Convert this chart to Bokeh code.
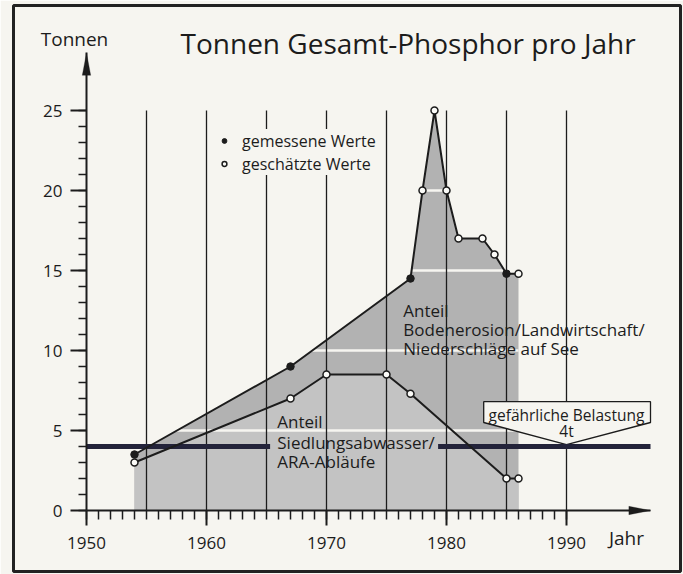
from bokeh.plotting import figure
from bokeh.models import (Range1d, FixedTicker, Legend, LegendItem, Label,
                          PolyAnnotation)
from bokeh.core.properties import value
from bokeh.embed import file_html
from bokeh.resources import INLINE

# ---------------- data ----------------
total_years = [1954, 1967, 1977, 1978, 1979, 1980, 1981, 1983, 1984, 1985, 1986]
total_values = [3.5, 9.0, 14.5, 20.0, 25.0, 20.0, 17.0, 17.0, 16.0, 14.8, 14.8]
total_measured = [True, True, True, False, False, False, False, False, False, True, False]

sied_years = [1954, 1967, 1970, 1975, 1977, 1985, 1986]
sied_values = [3.0, 7.0, 8.5, 8.5, 7.3, 2.0, 2.0]

threshold_value = 4.0

x_major_ticks = [1950, 1960, 1970, 1980, 1990]
x_minor_ticks = list(range(1950, 1991))
y_major_ticks = [0, 5, 10, 15, 20, 25]
y_minor_ticks = list(range(0, 26))
grid_years = [1955, 1960, 1965, 1970, 1975, 1980, 1985, 1990]
band_ticks = [5, 10, 15, 20]

title_text = "Tonnen Gesamt-Phosphor pro Jahr"
y_label_text = "Tonnen"
x_label_text = "Jahr"
legend_labels = ["gemessene Werte", "geschätzte Werte"]
agri_lines = ["Anteil", "Bodenerosion/Landwirtschaft/", "Niederschläge auf See"]
sied_lines = ["Anteil", "Siedlungsabwasser/", "ARA-Abläufe"]
callout_lines = ["gefährliche Belastung", "4t"]

# ---------------- style / layout ----------------
BG = "#f6f5f0"
INK = "#1c1c1c"
FONT = "Open Sans"
AX_X0, AX_X1 = 1950, 1997      # axis extent (arrow tip at AX_X1)
AX_Y0, AX_Y1 = 0, 28.6         # axis extent (arrow tip at AX_Y1)
GRID_TOP = 25

p = figure(width=683, height=574,
           x_range=Range1d(1943.9167, 1999.5), y_range=Range1d(-3.8125, 31.5625),
           output_backend="svg", toolbar_location=None,
           min_border_left=13, min_border_right=3,
           min_border_top=5, min_border_bottom=3,
           background_fill_color=BG, border_fill_color=BG,
           outline_line_color="#222222", outline_line_width=3)

# axes drawn at fixed data positions inside the frame
xa = p.xaxis[0]
xa.ticker = FixedTicker(ticks=x_major_ticks, minor_ticks=x_minor_ticks)
xa.fixed_location = AX_Y0
xa.bounds = (AX_X0, AX_X1)
ya = p.yaxis[0]
ya.ticker = FixedTicker(ticks=y_major_ticks, minor_ticks=y_minor_ticks)
ya.fixed_location = AX_X0
ya.bounds = (AX_Y0, AX_Y1)
for ax in (xa, ya):
    ax.axis_line_color = INK
    ax.axis_line_width = 2
    ax.major_tick_line_color = INK
    ax.minor_tick_line_color = INK
    ax.major_tick_line_width = 2
    ax.minor_tick_line_width = 1.5
    ax.major_tick_in = 0
    ax.minor_tick_in = 0
    ax.major_label_text_font = FONT
    ax.major_label_text_font_size = "17px"
    ax.major_label_text_color = INK
xa.major_tick_out = 15
xa.minor_tick_out = 9
xa.major_label_standoff = 11
ya.major_tick_out = 16
ya.minor_tick_out = 8
ya.major_label_standoff = 8

p.grid.visible = False

# shaded shares
p.varea(x=total_years, y1=0, y2=total_values, fill_color="#b2b2b2")
p.varea(x=sied_years, y1=0, y2=sied_values, fill_color="#c3c3c3")

# light horizontal bands inside the shaded area
span_x0, span_x1 = min(total_years), max(total_years)
p.segment(x0=[span_x0] * len(band_ticks), y0=band_ticks,
          x1=[span_x1] * len(band_ticks), y1=band_ticks,
          line_color=BG, line_width=2.5)

# vertical grid lines
p.segment(x0=grid_years, y0=0, x1=grid_years, y1=GRID_TOP,
          line_color=INK, line_width=1.3)

# callout box for dangerous load
cx, cy_top, cy_sh, cx_l, cx_r = 1990, 6.8, 5.5, 1983.1, 1997.0
p.patch(x=[cx_l, cx_r, cx_r, cx, cx_l],
        y=[cy_top, cy_top, cy_sh, threshold_value + 0.12, cy_sh],
        fill_color=BG, line_color=INK, line_width=1.3)
p.text(x=[cx, cx], y=[5.95, 4.95], text=callout_lines,
       text_font=value(FONT), text_font_size="15.5px", text_color=INK,
       text_align="center", text_baseline="middle")

# threshold line (interrupted by the label)
gap_l, gap_r = 1965.3, 1979.3
p.segment(x0=[AX_X0, gap_r], y0=[threshold_value] * 2,
          x1=[gap_l, AX_X1], y1=[threshold_value] * 2,
          line_color="#23233a", line_width=5)

# data lines
p.line(total_years, total_values, line_color=INK, line_width=2)
p.line(sied_years, sied_values, line_color=INK, line_width=2)

meas_x = [x for x, m in zip(total_years, total_measured) if m]
meas_y = [y for y, m in zip(total_values, total_measured) if m]
est_x = [x for x, m in zip(total_years, total_measured) if not m] + sied_years
est_y = [y for y, m in zip(total_values, total_measured) if not m] + sied_values

r_meas = p.scatter(meas_x, meas_y, size=7.5, fill_color=INK, line_color=INK)
r_est = p.scatter(est_x, est_y, size=7, fill_color="#fbfbf8", line_color=INK, line_width=1.5)

# area labels
p.text(x=[1976.4] * 3, y=[12.5, 11.3, 10.1], text=agri_lines,
       text_font=value(FONT), text_font_size="17px", text_color=INK,
       text_align="left", text_baseline="middle")
p.text(x=[1965.9] * 3, y=[5.55, 4.25, 3.05], text=sied_lines,
       text_font=value(FONT), text_font_size="17px", text_color=INK,
       text_align="left", text_baseline="middle")

# legend
legend = Legend(items=[LegendItem(label=legend_labels[0], renderers=[r_meas]),
                       LegendItem(label=legend_labels[1], renderers=[r_est])],
                location=(205, 396), margin=0, padding=4, spacing=0,
                glyph_width=12, glyph_height=23, label_height=23, label_standoff=12,
                label_text_font=FONT, label_text_font_size="16px", label_text_color=INK,
                background_fill_color=BG, background_fill_alpha=1.0,
                border_line_color=None)
p.add_layout(legend)

# arrow heads
p.add_layout(PolyAnnotation(xs=[AX_X0, AX_X0 - 0.35, AX_X0 + 0.35],
                            ys=[AX_Y1, AX_Y1 - 1.4, AX_Y1 - 1.4],
                            fill_color=INK, fill_alpha=1, line_color=INK, line_width=1))
p.add_layout(PolyAnnotation(xs=[AX_X1, AX_X1 - 1.8, AX_X1 - 1.8],
                            ys=[AX_Y0, AX_Y0 + 0.26, AX_Y0 - 0.26],
                            fill_color=INK, fill_alpha=1, line_color=INK, line_width=1))

# titles
p.add_layout(Label(x=1949.0, y=29.45, text=y_label_text, text_font=FONT,
                   text_font_size="19px", text_color=INK,
                   text_align="center", text_baseline="middle"))
p.add_layout(Label(x=1976.8, y=29.2, text=title_text, text_font=FONT,
                   text_font_size="28px", text_color=INK,
                   text_align="center", text_baseline="middle"))
p.add_layout(Label(x=1995.0, y=-1.73, text=x_label_text, text_font=FONT,
                   text_font_size="19px", text_color=INK,
                   text_align="center", text_baseline="middle"))

open("out.html", "w").write(file_html(p, INLINE))
